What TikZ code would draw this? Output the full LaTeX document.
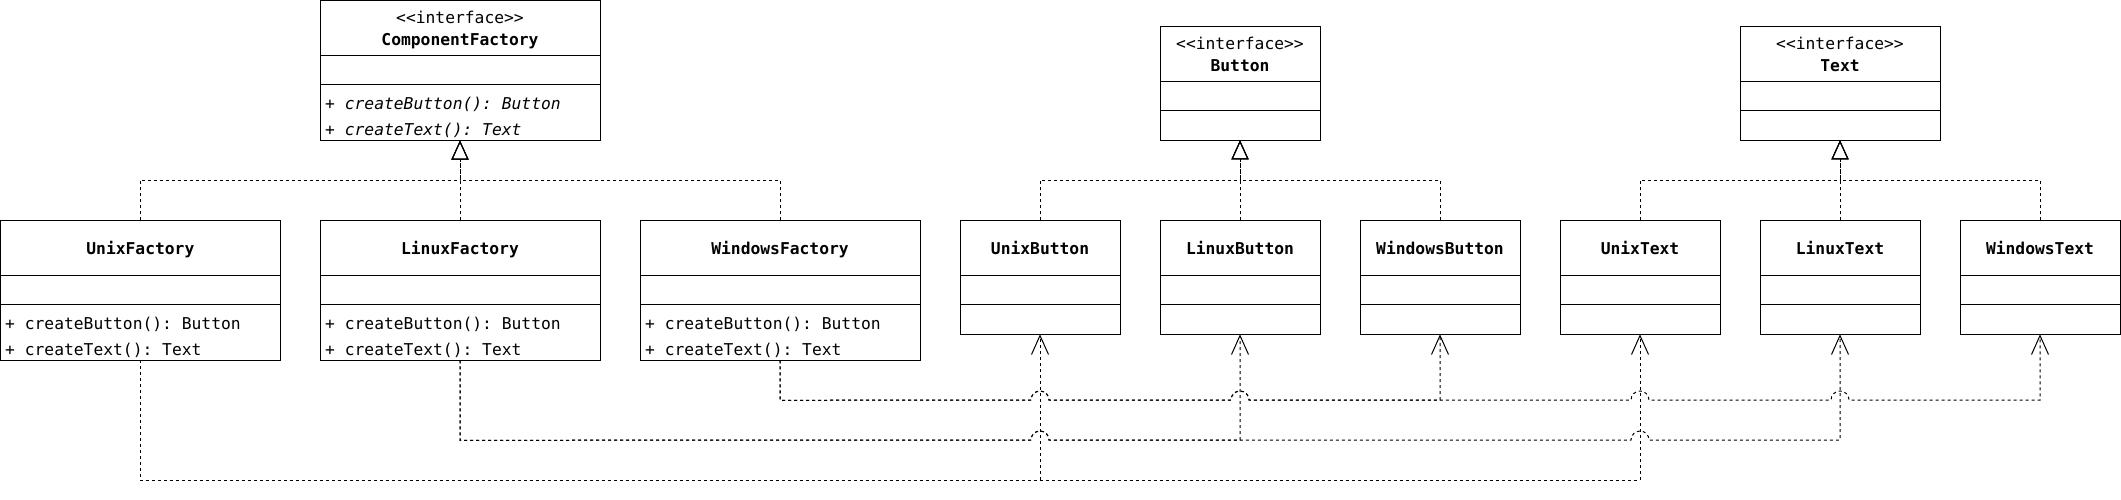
\documentclass[tikz,border=0pt]{standalone}
\usepackage{fontspec}
\setmonofont{DejaVu Sans Mono}
\usetikzlibrary{arrows.meta}
\newcommand\umlbox[7]{%
  \node[box,minimum width=#4pt,minimum height=#5pt] (#1) at (#2,#3) {};
  \draw[sepline] (#2,#6) -- ++(#4,0);
  \draw[sepline] (#2,#7) -- ++(#4,0);
}
\begin{document}
\begin{tikzpicture}[x=1pt,y=1pt,
  box/.style={draw,line width=1pt,inner sep=0pt,outer sep=0pt,anchor=north west},
  sepline/.style={line width=1pt},
  lbl/.style={inner sep=0pt,font=\ttfamily\fontsize{16.3}{20}\selectfont,anchor=base},
  bname/.style={lbl,font=\ttfamily\bfseries\fontsize{16.3}{20}\selectfont},
  mth/.style={lbl,anchor=base west},
  imth/.style={lbl,anchor=base west,font=\ttfamily\itshape\fontsize{16.3}{20}\selectfont},
  dashline/.style={line width=1pt,dash pattern=on 3pt off 3pt},
  real/.style={dashline,-{Triangle[open,length=19pt,width=17pt]}},
  dep/.style={dashline,-{Straight Barb[length=19pt,width=17pt]}},
  hop/.style={}
]
\useasboundingbox (0,0) rectangle (2121,-499);

% interfaces
\umlbox{cf}{320}{-0.5}{280}{140}{-55.3}{-84.3}
\umlbox{ib}{1160}{-26.7}{160}{113.6}{-81.3}{-110.3}
\umlbox{it}{1740}{-26.7}{200}{113.6}{-81.3}{-110.3}

% factories
\umlbox{uf}{0.5}{-220.3}{279.8}{140}{-275.3}{-304.3}
\umlbox{lf}{320}{-220.3}{280}{140}{-275.3}{-304.3}
\umlbox{wf}{640}{-220.3}{280}{140}{-275.3}{-304.3}

% products
\umlbox{ub}{960}{-220.3}{160}{114}{-275.3}{-304.3}
\umlbox{lb}{1160}{-220.3}{160}{114}{-275.3}{-304.3}
\umlbox{wb}{1360}{-220.3}{160}{114}{-275.3}{-304.3}
\umlbox{ut}{1560}{-220.3}{160}{114}{-275.3}{-304.3}
\umlbox{lt}{1760}{-220.3}{160}{114}{-275.3}{-304.3}
\umlbox{wt}{1960}{-220.3}{160}{114}{-275.3}{-304.3}

% labels
\node[lbl] (cfs) at (460,-23) {<<interface>>};
\node[bname] (cfn) at (460,-45) {ComponentFactory};
\node[imth] (cfm1) at (325,-109.5) {+ createButton(): Button};
\node[imth] (cfm2) at (325,-135) {+ createText(): Text};

\node[lbl] (ibs) at (1240,-49) {<<interface>>};
\node[bname] (ibn) at (1240,-71) {Button};
\node[lbl] (its) at (1840,-49) {<<interface>>};
\node[bname] (itn) at (1840,-71) {Text};

\node[bname] (ufn) at (140.4,-254.5) {UnixFactory};
\node[mth] (ufm1) at (5,-329) {+ createButton(): Button};
\node[mth] (ufm2) at (5,-355) {+ createText(): Text};
\node[bname] (lfn) at (460,-254.5) {LinuxFactory};
\node[mth] (lfm1) at (325,-329) {+ createButton(): Button};
\node[mth] (lfm2) at (325,-355) {+ createText(): Text};
\node[bname] (wfn) at (780,-254.5) {WindowsFactory};
\node[mth] (wfm1) at (645,-329) {+ createButton(): Button};
\node[mth] (wfm2) at (645,-355) {+ createText(): Text};

\node[bname] (ubn) at (1040,-254.5) {UnixButton};
\node[bname] (lbn) at (1240,-254.5) {LinuxButton};
\node[bname] (wbn) at (1440,-254.5) {WindowsButton};
\node[bname] (utn) at (1640,-254.5) {UnixText};
\node[bname] (ltn) at (1840,-254.5) {LinuxText};
\node[bname] (wtn) at (2040,-254.5) {WindowsText};

% realizations
\draw[real] (uf.north) -- ++(0,40) -| (cf.south);
\draw[real] (lf.north) -- (cf.south);
\draw[real] (wf.north) -- ++(0,40) -| (cf.south);
\draw[real] (ub.north) -- ++(0,40) -| (ib.south);
\draw[real] (lb.north) -- (ib.south);
\draw[real] (wb.north) -- ++(0,40) -| (ib.south);
\draw[real] (ut.north) -- ++(0,40) -| (it.south);
\draw[real] (lt.north) -- (it.south);
\draw[real] (wt.north) -- ++(0,40) -| (it.south);

% dependencies
\draw[dep] (uf.south) -- ++(0,-120) -| (ub.south);
\draw[dep] (uf.south) -- ++(0,-120) -| (ut.south);

\draw[dep] (lf.south) -- ++(0,-80) -- (1031,-440)
  arc[start angle=180,end angle=0,radius=9] -| (lb.south);
\draw[dep] (lf.south) -- ++(0,-80) -- (1031,-440)
  arc[start angle=180,end angle=0,radius=9] -- (1631,-440)
  arc[start angle=180,end angle=0,radius=9] -| (lt.south);

\draw[dep] (wf.south) -- ++(0,-40) -- (1031,-400)
  arc[start angle=180,end angle=0,radius=9] -- (1231,-400)
  arc[start angle=180,end angle=0,radius=9] -| (wb.south);
\draw[dep] (wf.south) -- ++(0,-40) -- (1031,-400)
  arc[start angle=180,end angle=0,radius=9] -- (1231,-400)
  arc[start angle=180,end angle=0,radius=9] -- (1631,-400)
  arc[start angle=180,end angle=0,radius=9] -- (1831,-400)
  arc[start angle=180,end angle=0,radius=9] -| (wt.south);
\end{tikzpicture}
\end{document}
